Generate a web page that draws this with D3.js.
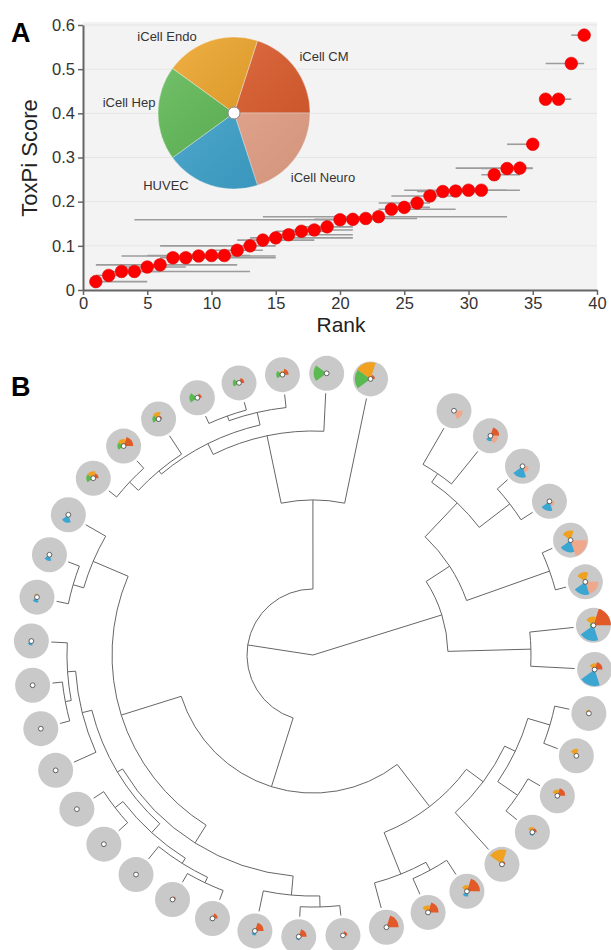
<!DOCTYPE html>
<html>
<head>
<meta charset="utf-8">
<script src="https://cdn.jsdelivr.net/npm/d3@7"></script>
<style>
  body { margin: 0; background: #fff; }
  text { font-family: "Liberation Sans", Arial, sans-serif; }
</style>
</head>
<body>
<div id="chart"></div>
<script>
// ---------- Panel A data ----------
const rank = [1, 2, 3, 4, 5, 6, 7, 8, 9, 10, 11, 12, 13, 14, 15, 16, 17, 18, 19, 20,
  21, 22, 23, 24, 25, 26, 27, 28, 29, 30, 31, 32, 33, 34, 35, 36, 37, 38, 39];
const toxpiScore = [0.019, 0.033, 0.042, 0.042, 0.052, 0.057, 0.073, 0.073, 0.077, 0.078,
  0.078, 0.090, 0.100, 0.113, 0.118, 0.125, 0.133, 0.136, 0.143, 0.159,
  0.160, 0.162, 0.166, 0.183, 0.187, 0.197, 0.213, 0.223, 0.224, 0.226,
  0.226, 0.261, 0.275, 0.276, 0.330, 0.432, 0.432, 0.513, 0.577];
// rank confidence interval
const rankLow = [1, 1, 2, 3, 3, 1, 6, 7, 3, 8, 5, 10, 6, 12, 13, 15, 15, 16, 17, 4,
  18, 20, 14, 23, 24, 23, 24, 26, 27, 25, 28, 31, 31, 29, 33, 36, 36, 36, 38];
const rankHigh = [5, 3, 6, 13, 8, 12, 11, 15, 15, 12, 13, 14, 15, 18, 21, 21, 19, 21, 21, 21,
  23, 26, 33, 29, 27, 27, 29, 31, 31, 34, 33, 34, 35, 35, 35, 37, 38, 39, 39];
const xTicks = [0, 5, 10, 15, 20, 25, 30, 35, 40];
const yTicks = [0, 0.1, 0.2, 0.3, 0.4, 0.5, 0.6];

// ToxPi slices, clockwise starting at iCell CM
const sliceNames = ["iCell CM", "iCell Neuro", "HUVEC", "iCell Hep", "iCell Endo"];
const sliceColors = ["#e25a28", "#f0a88c", "#3ca6d2", "#5ab950", "#efa11f"];

// ---------- Panel B data ----------
// leaf slice scores (0-1), leaves in clockwise order
const cmScore =    [0, 0.5, 0.05, 0.1, 0.05, 0.05, 1.0, 0.45, 0.05, 0.1, 0.45, 0.25, 0.2, 0.75, 0.6, 0.7, 0.25, 0.45, 0.5, 0.3,
  0.2, 0.1, 0.05, 0.03, 0.1, 0.15, 0.1, 0.05, 0.05, 0, 0, 0.3, 0.55, 0.2, 0.25, 0.3, 0.35, 0.08, 0.25];
const neuroScore = [0.5, 0.45, 0.35, 0.3, 0.95, 0.75, 0.05, 0.05, 0, 0.05, 0, 0, 0, 0, 0, 0, 0, 0, 0, 0,
  0.05, 0.05, 0.1, 0.03, 0.05, 0, 0.05, 0, 0, 0, 0, 0, 0.05, 0, 0, 0, 0, 0, 0.05];
const huvecScore = [0, 0.3, 0.65, 0.55, 0.7, 0.75, 0.9, 0.95, 0.05, 0.05, 0.15, 0.2, 0.15, 0.3, 0.1, 0.1, 0.05, 0.2, 0.25, 0.15,
  0.12, 0.05, 0.15, 0.05, 0.15, 0.12, 0.15, 0.25, 0.3, 0.35, 0.45, 0.1, 0.05, 0.15, 0, 0, 0, 0, 0];
const hepScore =   [0.12, 0, 0, 0, 0.05, 0.08, 0.2, 0.05, 0, 0, 0, 0.05, 0.15, 0.1, 0.15, 0.1, 0.1, 0, 0, 0,
  0, 0, 0, 0.03, 0.05, 0.05, 0.08, 0, 0, 0.05, 0.15, 0.4, 0.35, 0.35, 0.45, 0.35, 0.35, 0.75, 0.9];
const endoScore =  [0, 0.1, 0.12, 0.1, 0.55, 0.55, 0.5, 0.35, 0.2, 0.4, 0.35, 0.3, 0.85, 0.35, 0.4, 0.05, 0, 0.05, 0.05, 0,
  0, 0, 0, 0.03, 0, 0.05, 0.12, 0.15, 0.2, 0.1, 0.1, 0.4, 0.4, 0.4, 0.1, 0.1, 0.2, 0.05, 0.95];

// clustering merges: [left, right, height]; "L#" = leaf, "M#" = earlier merge (1-based)
const merges = [
  ["L0", "L1", 0.16], ["L2", "L3", 0.053], ["M1", "M2", 0.2], ["L4", "L5", 0.042],
  ["M3", "M4", 0.378], ["L6", "L7", 0.168], ["M5", "M6", 0.485], ["L8", "L9", 0.057],
  ["L10", "L11", 0.053], ["M8", "M9", 0.145], ["M10", "L12", 0.19], ["L13", "L14", 0.065],
  ["M12", "L15", 0.099], ["M11", "M13", 0.27], ["L16", "L17", 0.038], ["M15", "L18", 0.08],
  ["L19", "L20", 0.038], ["M17", "L21", 0.061], ["L22", "L23", 0.046], ["M18", "M19", 0.084],
  ["L25", "L26", 0.038], ["M21", "L27", 0.061], ["L24", "M22", 0.092], ["M20", "M23", 0.13],
  ["M16", "M24", 0.153], ["L28", "L29", 0.046], ["M26", "L30", 0.088], ["M25", "M27", 0.233],
  ["M14", "M28", 0.473], ["L31", "L32", 0.038], ["M30", "L33", 0.084], ["L34", "L35", 0.031],
  ["M32", "L36", 0.05], ["M31", "M33", 0.099], ["M34", "L37", 0.145], ["M35", "L38", 0.408],
  ["M29", "M36", 0.748], ["M7", "M37", 1.0]
];

const width = 611;
const height = 950;
const deg = Math.PI / 180;

const svg = d3
  .select("#chart")
  .append("svg")
  .attr("width", width)
  .attr("height", height);

// ================= Panel A =================
const x = d3.scaleLinear().domain([0, 40]).range([83, 597]);
const y = d3.scaleLinear().domain([0, 0.6]).range([290, 25]);

// plot background and grid
svg.append("rect")
  .attr("x", x(0)).attr("y", y(0.607))
  .attr("width", x(40) - x(0)).attr("height", y(0) - y(0.607))
  .attr("fill", "#f3f3f3");

svg.append("g")
  .selectAll("line")
  .data(yTicks.slice(1))
  .join("line")
  .attr("x1", x(0)).attr("x2", x(40))
  .attr("y1", (d) => y(d)).attr("y2", (d) => y(d))
  .attr("stroke", "#e5e5e5")
  .attr("stroke-width", 1);

// rank intervals
svg.append("g")
  .selectAll("line")
  .data(rank)
  .join("line")
  .attr("x1", (d, i) => x(rankLow[i]))
  .attr("x2", (d, i) => x(rankHigh[i]))
  .attr("y1", (d, i) => y(toxpiScore[i]))
  .attr("y2", (d, i) => y(toxpiScore[i]))
  .attr("stroke", "#9c9c9c")
  .attr("stroke-width", 1.6);

// pie legend
const legend = svg.append("g").attr("transform", "translate(234,113)");
const defs = svg.append("defs");
const shade = defs.append("linearGradient")
  .attr("id", "shade")
  .attr("x1", "0").attr("y1", "0").attr("x2", "1").attr("y2", "1");
shade.append("stop").attr("offset", "0").attr("stop-color", "#fff").attr("stop-opacity", 0.18);
shade.append("stop").attr("offset", "1").attr("stop-color", "#000").attr("stop-opacity", 0.12);

const pie = d3.pie().value(1).sort(null).startAngle(18 * deg).endAngle(378 * deg);
const legendArc = d3.arc().innerRadius(0).outerRadius(76);

legend.selectAll("path")
  .data(pie(sliceNames))
  .join("path")
  .attr("d", legendArc)
  .attr("fill", (d, i) => sliceColors[i])
  .attr("stroke", "#fff")
  .attr("stroke-opacity", 0.5)
  .attr("stroke-width", 0.8);
legend.append("circle").attr("r", 76).attr("fill", "url(#shade)");
legend.append("circle").attr("r", 6).attr("fill", "#fff").attr("stroke", "#888").attr("stroke-width", 1);

// legend labels
const labelAt = {
  "iCell CM": [324, 61],
  "iCell Neuro": [323, 182],
  "HUVEC": [166, 190],
  "iCell Hep": [129, 107],
  "iCell Endo": [167, 41],
};
svg.append("g")
  .selectAll("text")
  .data(sliceNames)
  .join("text")
  .attr("x", (d) => labelAt[d][0])
  .attr("y", (d) => labelAt[d][1])
  .attr("text-anchor", "middle")
  .attr("font-size", 13)
  .attr("fill", "#333")
  .text((d) => d);

// points
svg.append("g")
  .selectAll("circle")
  .data(rank)
  .join("circle")
  .attr("cx", (d) => x(d))
  .attr("cy", (d, i) => y(toxpiScore[i]))
  .attr("r", 6.3)
  .attr("fill", "#ff0000")
  .attr("stroke", "#e00000")
  .attr("stroke-width", 0.6);

// axes
const styleAxis = (g) => {
  g.select(".domain").attr("stroke", "#666").attr("stroke-width", 2);
  g.selectAll(".tick line").attr("stroke", "#666").attr("stroke-width", 1.5);
  g.selectAll(".tick text").attr("font-size", 16.5).attr("fill", "#333")
    .attr("font-family", "'Liberation Sans', Arial, sans-serif");
};

svg.append("g")
  .attr("transform", "translate(83,0)")
  .call(d3.axisLeft(y).tickValues(yTicks).tickFormat(d3.format("")).tickSize(5).tickSizeOuter(0).tickPadding(3))
  .call(styleAxis);

svg.append("g")
  .attr("transform", "translate(0,290)")
  .call(d3.axisBottom(x).tickValues(xTicks).tickSize(5).tickSizeOuter(0).tickPadding(2))
  .call(styleAxis);

svg.append("text")
  .attr("transform", "translate(37,158) rotate(-90)")
  .attr("text-anchor", "middle")
  .attr("font-size", 22)
  .attr("fill", "#222")
  .text("ToxPi Score");

svg.append("text")
  .attr("x", 341).attr("y", 332)
  .attr("text-anchor", "middle")
  .attr("font-size", 21)
  .attr("fill", "#222")
  .text("Rank");

svg.append("text").attr("x", 11).attr("y", 42)
  .attr("font-size", 27).attr("font-weight", "bold").text("A");
svg.append("text").attr("x", 11).attr("y", 396)
  .attr("font-size", 27).attr("font-weight", "bold").text("B");

// ================= Panel B =================
const cx = 313, cy = 655;
const leafR = 262;     // end of tree lines
const glyphR = 282;    // centre of leaf circles
const circleR = 17.5;
const startAngle = 25.5;

// build the hierarchy from the merge list
const nodes = {};
cmScore.forEach((v, i) => (nodes["L" + i] = { name: "L" + i, leaf: i, height: 0 }));
merges.forEach((m, k) => {
  nodes["M" + (k + 1)] = { name: "M" + (k + 1), height: m[2], children: [nodes[m[0]], nodes[m[1]]] };
});
const root = d3.hierarchy(nodes["M" + merges.length]);
const nLeaves = cmScore.length;
d3.cluster().size([360 * (nLeaves - 1) / nLeaves, 1]).separation(() => 1)(root);

const r = d3.scaleLinear().domain([1, 0]).range([0, leafR]);
root.each((d) => {
  d.angle = d.x + startAngle;
  d.radius = r(d.data.height);
});

const point = (a, rad) => [rad * Math.sin(a * deg), -rad * Math.cos(a * deg)];

// step link: arc along the parent's radius, then radial out to the child
const linkStep = (s, t) => {
  const r0 = s.radius;
  const [x0, y0] = point(s.angle, r0);
  const [x1, y1] = point(t.angle, r0);
  const [x2, y2] = point(t.angle, t.radius);
  const arc = r0 > 0 && t.angle !== s.angle
    ? `A${r0},${r0} 0 0 ${t.angle > s.angle ? 1 : 0} ${x1},${y1}`
    : "";
  return `M${x0},${y0}${arc}L${x2},${y2}`;
};

const tree = svg.append("g").attr("transform", `translate(${cx},${cy})`);

tree.append("g")
  .selectAll("path")
  .data(root.links())
  .join("path")
  .attr("d", (d) => linkStep(d.source, d.target))
  .attr("fill", "none")
  .attr("stroke", "#666")
  .attr("stroke-width", 1);

// leaf ToxPi glyphs
const sliceScores = [cmScore, neuroScore, huvecScore, hepScore, endoScore];
const glyphArc = d3.arc().innerRadius(0);

const leafG = tree.append("g")
  .selectAll("g")
  .data(root.leaves())
  .join("g")
  .attr("transform", (d) => {
    const [gx, gy] = point(d.angle, glyphR);
    return `translate(${gx},${gy})`;
  });

leafG.append("circle").attr("r", circleR).attr("fill", "#c9c9c9");

leafG.each(function (d) {
  const i = d.data.leaf;
  d3.select(this)
    .selectAll("path")
    .data(pie(sliceNames))
    .join("path")
    .attr("d", (s, k) => glyphArc.outerRadius(sliceScores[k][i] * circleR)(s))
    .attr("fill", (s, k) => sliceColors[k]);
});

leafG.append("circle").attr("r", 2.4).attr("fill", "#fff").attr("stroke", "#444").attr("stroke-width", 0.8);
</script>
</body>
</html>
